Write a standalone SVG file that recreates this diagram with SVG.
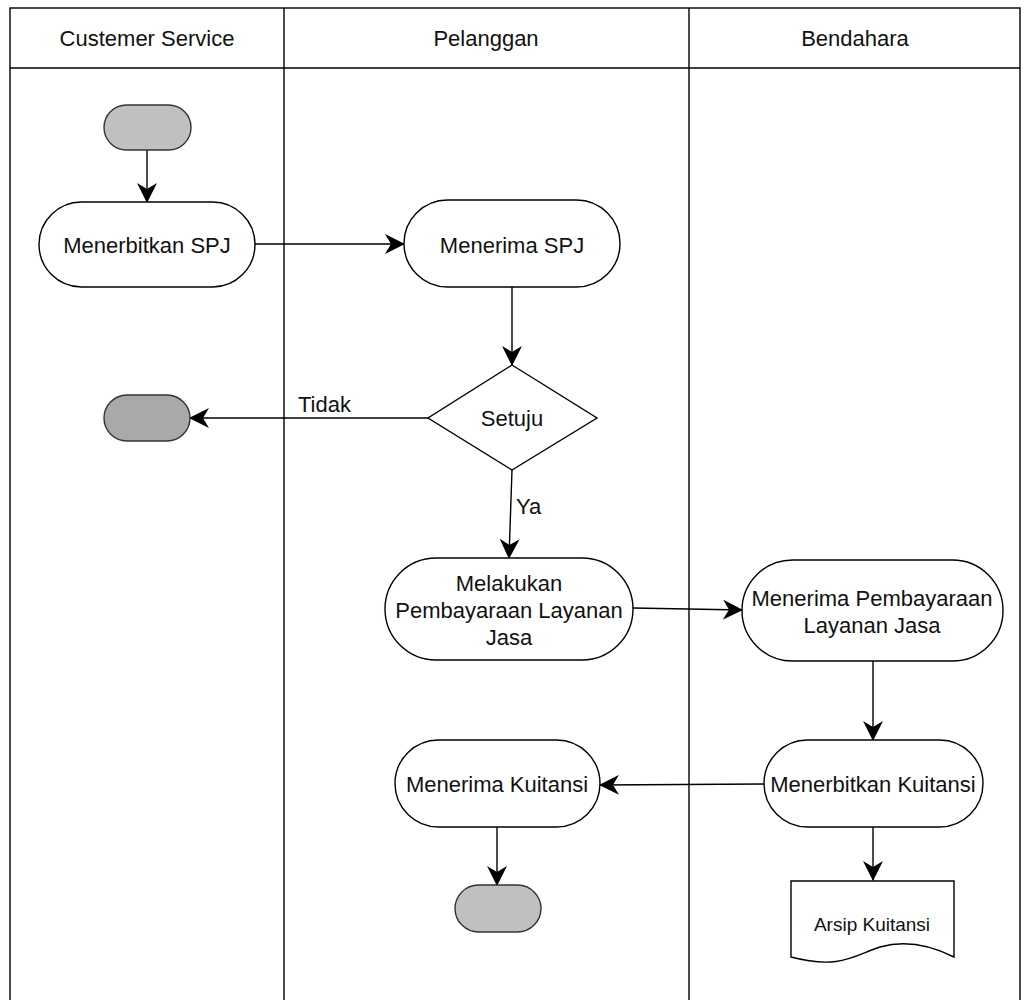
<svg xmlns="http://www.w3.org/2000/svg" width="1030" height="1000" viewBox="0 0 1030 1000">
  <style>
    .lane { fill: none; stroke: #000; stroke-width: 1.4; }
    .act { fill: #fff; stroke: #000; stroke-width: 1.4; }
    .term { stroke: #333; stroke-width: 1.4; }
    .edge { fill: none; stroke: #000; stroke-width: 1.4; marker-end: url(#arrow); }
    text { font-family: "Liberation Sans", Arial, sans-serif; font-size: 22px; fill: #111; text-anchor: middle; dominant-baseline: central; }
    .small { font-size: 19px; }
    .lbl { text-anchor: start; }
  </style>
  <defs>
    <marker id="arrow" markerUnits="userSpaceOnUse" viewBox="0 0 20 20" markerWidth="20" markerHeight="20" refX="19" refY="10" orient="auto">
      <path d="M0,0 L20,10 L0,20 L6,10 Z" fill="#000"/>
    </marker>
  </defs>

  <rect width="1030" height="1000" fill="#fff"/>

  <!-- swimlanes -->
  <g id="lanes">
    <rect class="lane" x="10" y="8" width="1010" height="1000"/>
    <line class="lane" x1="10" y1="68" x2="1020" y2="68"/>
    <line class="lane" x1="284" y1="8" x2="284" y2="1000"/>
    <line class="lane" x1="689" y1="8" x2="689" y2="1000"/>
    <text x="147" y="38">Custemer Service</text>
    <text x="486" y="38">Pelanggan</text>
    <text x="855" y="38">Bendahara</text>
  </g>

  <!-- connectors -->
  <g id="connectors">
    <line class="edge" x1="147" y1="150" x2="147" y2="202"/>
    <line class="edge" x1="255" y1="244" x2="404" y2="244"/>
    <line class="edge" x1="512" y1="287" x2="512" y2="365"/>
    <line class="edge" x1="428" y1="418" x2="190" y2="418"/>
    <text class="lbl" x="298" y="404">Tidak</text>
    <line class="edge" x1="512" y1="470" x2="509" y2="558"/>
    <text class="lbl" x="516" y="506">Ya</text>
    <line class="edge" x1="633" y1="608" x2="742" y2="610"/>
    <line class="edge" x1="873" y1="661" x2="873" y2="740"/>
    <line class="edge" x1="764" y1="784" x2="600" y2="785"/>
    <line class="edge" x1="497" y1="827" x2="497" y2="885"/>
    <line class="edge" x1="873" y1="827" x2="873" y2="880"/>
  </g>

  <!-- nodes -->
  <g id="start">
    <rect class="term" x="104" y="105" width="87" height="45" rx="22.5" fill="#c0c0c0"/>
  </g>
  <g id="menerbitkan-spj">
    <rect class="act" x="39" y="202" width="216" height="85" rx="42.5"/>
    <text x="147" y="245">Menerbitkan SPJ</text>
  </g>
  <g id="menerima-spj">
    <rect class="act" x="404" y="200" width="216" height="87" rx="43.5"/>
    <text x="512" y="245">Menerima SPJ</text>
  </g>
  <g id="setuju">
    <polygon class="act" points="512,365 597,418 512,470 428,418"/>
    <text x="512" y="418">Setuju</text>
  </g>
  <g id="end-tidak">
    <rect class="term" x="104" y="395" width="86" height="46" rx="23" fill="#a9a9a9"/>
  </g>
  <g id="melakukan-pembayaran">
    <rect class="act" x="385" y="558" width="248" height="102" rx="51"/>
    <text x="509" y="583">Melakukan</text>
    <text x="509" y="610">Pembayaraan Layanan</text>
    <text x="509" y="637">Jasa</text>
  </g>
  <g id="menerima-pembayaran">
    <rect class="act" x="742" y="560" width="261" height="101" rx="50.5"/>
    <text x="872" y="598">Menerima Pembayaraan</text>
    <text x="872" y="625">Layanan Jasa</text>
  </g>
  <g id="menerbitkan-kuitansi">
    <rect class="act" x="764" y="740" width="219" height="87" rx="43.5"/>
    <text x="873" y="784">Menerbitkan Kuitansi</text>
  </g>
  <g id="menerima-kuitansi">
    <rect class="act" x="395" y="740" width="205" height="87" rx="43.5"/>
    <text x="497" y="784">Menerima Kuitansi</text>
  </g>
  <g id="end">
    <rect class="term" x="455" y="885" width="86" height="47" rx="23.5" fill="#c0c0c0"/>
  </g>
  <g id="arsip-kuitansi">
    <path class="act" d="M791,881 L954,881 L954,957 C930,945 905,940 880,947 C855,955 840,970 791,957 Z"/>
    <text class="small" x="872" y="924">Arsip Kuitansi</text>
  </g>
</svg>
